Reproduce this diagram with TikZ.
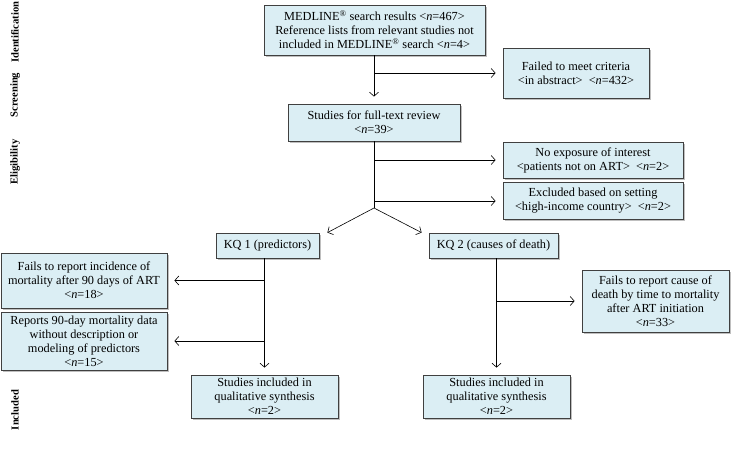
\documentclass[tikz,border=0pt]{standalone}
\usepackage{fontspec}
\setmainfont{Liberation Serif}
\usetikzlibrary{arrows.meta,calc,shadows}
\definecolor{boxfill}{HTML}{DBEEF4}
\definecolor{boxline}{HTML}{404040}
\begin{document}
\begin{tikzpicture}[x=1pt,y=-1pt,
  box/.style={draw=boxline,line width=0.8pt,fill=boxfill,align=center,inner sep=1pt,
    font=\fontsize{12.3}{14}\selectfont,
    drop shadow={shadow xshift=1.5pt,shadow yshift=-1.5pt,fill=black,opacity=0.25}},
  phase/.style={rotate=90,inner sep=0.5pt,font=\fontsize{10.6}{12.5}\selectfont\bfseries},
  conn/.style={line width=0.6pt,draw=black},
  arr/.style={conn,-{Straight Barb[length=4pt,width=9pt]},shorten >=7pt}]
\useasboundingbox (0,0) rectangle (733,458);

% phase labels
\node[phase] (lid) at (15,32) {Identification};
\node[phase] (lsc) at (15,95) {Screening};
\node[phase] (lel) at (15,162) {Eligibility};
\node[phase] (lin) at (15,410) {Included};

% boxes
\node[box,minimum width=221pt,minimum height=50pt] (top) at (374.5,30)
  {MEDLINE\textsuperscript{®} search results <\textit{n}=467>\\Reference lists from relevant studies not\\included in MEDLINE\textsuperscript{®} search <\textit{n}=4>};
\node[box,minimum width=146pt,minimum height=50pt] (fail) at (576,73)
  {Failed to meet criteria\\<in abstract>\ \ <\textit{n}=432>};
\node[box,minimum width=172pt,minimum height=37pt] (ft) at (374,122.5)
  {Studies for full-text review\\<\textit{n}=39>};
\node[box,minimum width=180pt,minimum height=36pt] (noexp) at (593,160)
  {No exposure of interest\\<patients not on ART>\ \ <\textit{n}=2>};
\node[box,minimum width=180pt,minimum height=37pt] (excl) at (593,201)
  {Excluded based on setting\\<high-income country>\ \ <\textit{n}=2>};
\node[box,minimum width=103pt,minimum height=25pt] (kq1) at (267.5,245.5)
  {KQ 1 (predictors)};
\node[box,minimum width=129pt,minimum height=25pt] (kq2) at (493.5,245.5)
  {KQ 2 (causes of death)};
\node[box,minimum width=166pt,minimum height=55pt] (fr1) at (84,280.5)
  {Fails to report incidence of\\mortality after 90 days of ART\\<\textit{n}=18>};
\node[box,minimum width=166pt,minimum height=58pt] (fr2) at (84,341)
  {Reports 90-day mortality data\\without description or\\modeling of predictors\\<\textit{n}=15>};
\node[box,minimum width=147pt,minimum height=62pt] (cause) at (655.5,301)
  {Fails to report cause of\\death by time to mortality\\after ART initiation\\<\textit{n}=33>};
\node[box,minimum width=147pt,minimum height=43pt] (inc1) at (264.5,396.5)
  {Studies included in\\qualitative synthesis\\<\textit{n}=2>};
\node[box,minimum width=147pt,minimum height=43pt] (inc2) at (496.5,396.5)
  {Studies included in\\qualitative synthesis\\<\textit{n}=2>};

% connectors
\draw[arr] (top.south -| ft.north) -- (ft.north);
\draw[arr] (ft.north |- fail.west) -- (fail.west);
\coordinate (split) at (374,208);
\draw[conn] (ft.south) -- (split);
\draw[arr] (ft.south |- noexp.west) -- (noexp.west);
\draw[arr] (ft.south |- excl.west) -- (excl.west);
\draw[arr,shorten >=0pt] (split) -- ($(kq1.north east)+(8,0)$);
\draw[arr,shorten >=0pt] (split) -- ($(kq2.north west)+(-7,0)$);
\draw[arr] (inc1.north |- kq1.south) -- (inc1.north);
\draw[arr] (inc1.north |- fr1.east) -- (fr1.east);
\draw[arr] (inc1.north |- fr2.east) -- (fr2.east);
\draw[arr] (inc2.north |- kq2.south) -- (inc2.north);
\draw[arr] (inc2.north |- cause.west) -- (cause.west);
\end{tikzpicture}
\end{document}
